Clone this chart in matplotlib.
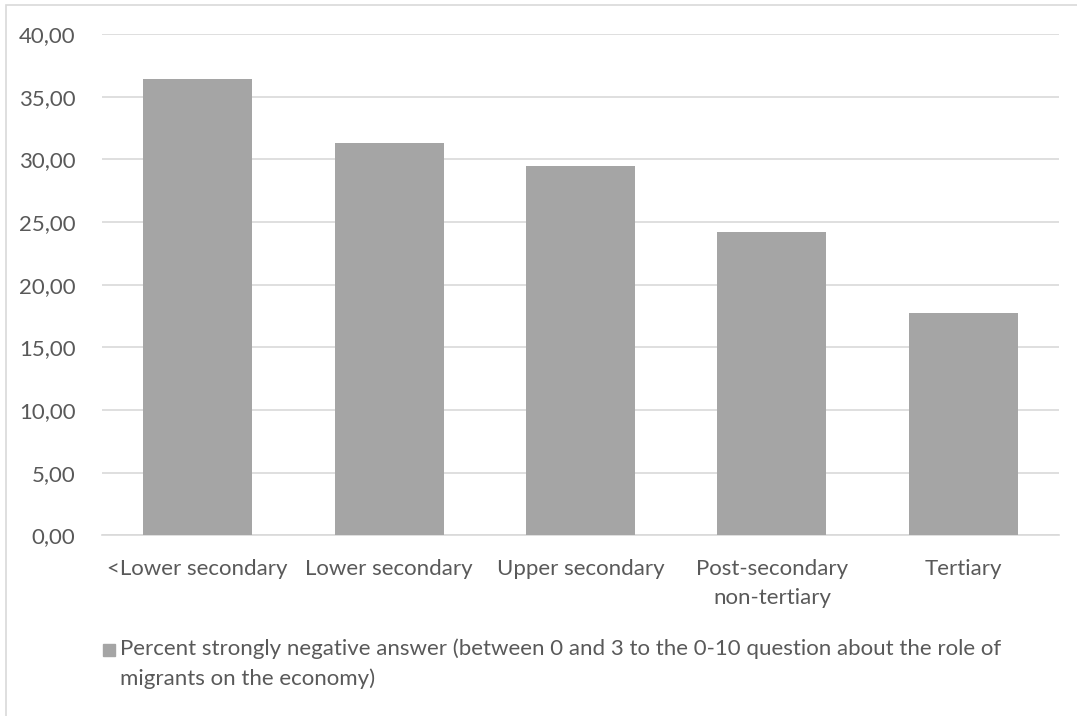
import matplotlib
matplotlib.use("Agg")
import matplotlib.pyplot as plt
from matplotlib.patches import Rectangle
from matplotlib.ticker import FuncFormatter

categories = ["<Lower secondary", "Lower secondary", "Upper secondary",
              "Post-secondary\nnon-tertiary", "Tertiary"]
values = [36.4, 31.3, 29.5, 24.2, 17.7]
series_label = ("Percent strongly negative answer (between 0 and 3 to the 0-10 question about the role of\n"
                "migrants on the economy)")

plt.rcParams['font.family'] = ['Lato', 'DejaVu Sans']
text_color = "#595959"
bar_color = "#A5A5A5"
grid_color = "#D9D9D9"
fs = 16

fig = plt.figure(figsize=(10.77, 7.16), dpi=100)
ax = fig.add_axes([102/1077, 1-535.3/716, (1059-102)/1077, (535.3-34)/716])

x = range(len(categories))
ax.bar(x, values, width=0.57, color=bar_color, zorder=3)
ax.set_xlim(-0.5, len(categories)-0.5)
ax.set_ylim(0, 40)
ax.set_yticks(range(0, 41, 5))
ax.yaxis.set_major_formatter(FuncFormatter(lambda v, p: f"{v:.2f}".replace(".", ",")))
ax.set_xticks(list(x))
ax.set_xticklabels(categories, linespacing=1.55, va="top")
ax.grid(axis="y", color=grid_color, linewidth=1.2, zorder=0)
for s in ["left", "right", "top"]:
    ax.spines[s].set_visible(False)
ax.spines["bottom"].set_color(grid_color)
ax.spines["bottom"].set_linewidth(1.2)
ax.tick_params(axis="both", length=0, colors=text_color, labelsize=fs)
ax.tick_params(axis="x", pad=17)
ax.tick_params(axis="y", pad=19)

# legend
fig.patches.append(Rectangle((103/1077, 1-656/716), 12/1077, 12/716,
                             transform=fig.transFigure, color=bar_color))
fig.text(120/1077, 1-663.5/716, series_label, color=text_color, fontsize=fs,
         va="center", ha="left", linespacing=1.55)

# chart border
fig.patches.append(Rectangle((6/1077, -0.01), 1.05, 1-5/716+0.01, transform=fig.transFigure,
                             fill=False, edgecolor=grid_color, linewidth=1.2))

fig.savefig("out.png", dpi=100)
